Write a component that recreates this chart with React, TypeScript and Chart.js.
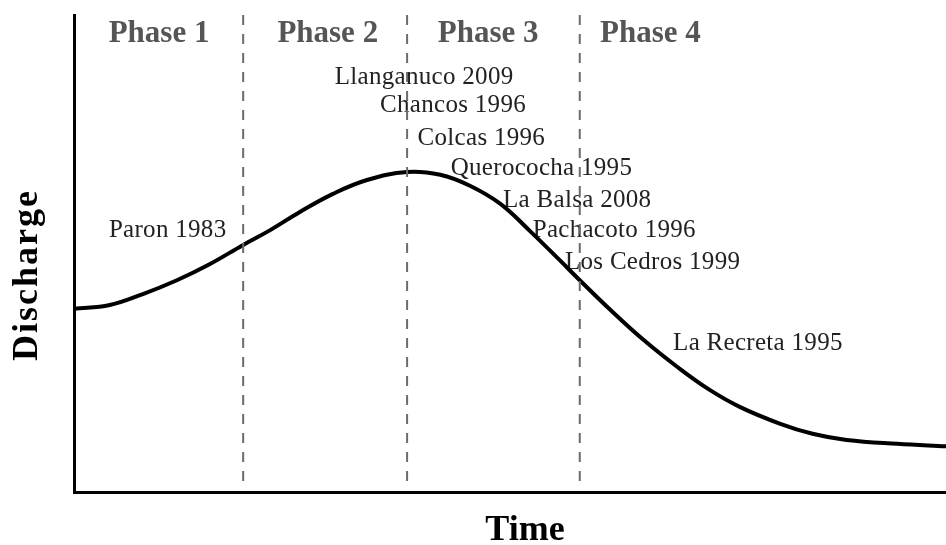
import React, { useEffect, useRef } from "react";
import { Chart, registerables } from "chart.js";

Chart.register(...registerables);

// Conceptual discharge curve (time 0-100, discharge 0-100)
const curveTime = [0, 4.1, 7.9, 11.8, 15.6, 19.4, 22.5, 25.9, 29.7, 33.6, 38.2, 42.0, 45.4, 48.9, 52.3, 55.7, 58.0, 61.5, 65.3, 69.2, 72.9, 76.4, 81.0, 84.7, 88.6, 94.4, 100];
const curveDischarge = [38.4, 39.2, 41.5, 44.4, 47.8, 51.8, 54.9, 58.7, 62.5, 65.4, 67.1, 66.5, 64.2, 60.4, 54.7, 48.6, 44.4, 38.2, 31.9, 26.2, 21.4, 17.8, 14.3, 12.2, 10.9, 10.1, 9.6];

// Phase boundaries (time)
const phaseBoundaries = [19.4, 38.2, 58.0];
const boundaryTop = 100;
const boundaryBottom = 1.3;

// Phase labels
const phaseLabels = ["Phase 1", "Phase 2", "Phase 3", "Phase 4"];
const phaseLabelX = [9.75, 29.1, 47.5, 66.1];
const phaseLabelY = 96.0;

// Site labels (left anchor, in data units)
const siteNames = ["Paron 1983", "Llanganuco 2009", "Chancos 1996", "Colcas 1996", "Querococha 1995", "La Balsa 2008", "Pachacoto 1996", "Los Cedros 1999", "La Recreta 1995"];
const siteX = [4.0, 29.9, 35.1, 39.4, 43.2, 49.2, 52.6, 56.3, 68.7];
const siteY = [54.9, 87.0, 81.1, 74.2, 67.9, 61.2, 54.9, 48.2, 31.2];

const xTitle = "Time";
const yTitle = "Discharge";

const labelPlugin = {
  id: "labelPlugin",
  beforeDatasetsDraw(chart: any) {
    const { ctx, scales } = chart;
    const xs = scales.x;
    const ys = scales.y;
    ctx.save();
    ctx.textBaseline = "middle";
    // phase labels
    ctx.fillStyle = "#555555";
    ctx.font = "bold 31px 'Liberation Serif', serif";
    ctx.textAlign = "center";
    phaseLabels.forEach((t, i) => {
      ctx.fillText(t, xs.getPixelForValue(phaseLabelX[i]), ys.getPixelForValue(phaseLabelY));
    });
    try { (ctx as any).letterSpacing = "0.3px"; } catch (e) {}
    // site labels
    ctx.fillStyle = "#222222";
    ctx.font = "25px 'Liberation Serif', serif";
    ctx.textAlign = "left";
    siteNames.forEach((t, i) => {
      ctx.fillText(t, xs.getPixelForValue(siteX[i]), ys.getPixelForValue(siteY[i]));
    });
    ctx.restore();
  },
  afterDraw(chart: any) {
    const { ctx, chartArea } = chart;
    ctx.save();
    ctx.fillStyle = "#000000";
    ctx.font = "bold 36px 'Liberation Serif', serif";
    ctx.textAlign = "center";
    ctx.textBaseline = "middle";
    ctx.fillText(xTitle, (chartArea.left + chartArea.right) / 2 + 15, 531);
    ctx.translate(28, 275);
    ctx.rotate(-Math.PI / 2);
    try { (ctx as any).letterSpacing = "2px"; } catch (e) {}
    ctx.fillText(yTitle, 0, 0);
    ctx.restore();
  },
};

export default function App() {
  const canvasRef = useRef<HTMLCanvasElement | null>(null);

  useEffect(() => {
    const canvas = canvasRef.current;
    if (!canvas) return;
    const boundaryDatasets = phaseBoundaries.map((b) => ({
      data: [
        { x: b, y: boundaryTop },
        { x: b, y: boundaryBottom },
      ],
      showLine: true,
      borderColor: "#6b6b6b",
      borderWidth: 2,
      borderDash: [10, 9],
      pointRadius: 0,
      fill: false,
    }));
    const chart = new Chart(canvas, {
      type: "scatter",
      data: {
        datasets: [
          ...boundaryDatasets,
          {
            data: curveTime.map((t, i) => ({ x: t, y: curveDischarge[i] })),
            showLine: true,
            borderColor: "#000000",
            borderWidth: 4,
            borderJoinStyle: "round",
            borderCapStyle: "round",
            pointRadius: 0,
            tension: 0.4,
            fill: false,
          } as any,
        ],
      },
      options: {
        animation: false,
        responsive: false,
        devicePixelRatio: 1,
        layout: { padding: { top: 15, right: 0, left: 0, bottom: 0 } },
        plugins: { legend: { display: false }, tooltip: { enabled: false } },
        scales: {
          x: {
            type: "linear",
            min: 0,
            max: 100,
            ticks: { display: false },
            grid: { display: false },
            border: { display: true, color: "#000000", width: 3 },
            afterFit: (axis: any) => { axis.height = 53; },
          },
          y: {
            type: "linear",
            min: 0,
            max: 100,
            ticks: { display: false },
            grid: { display: false },
            border: { display: true, color: "#000000", width: 3 },
            afterFit: (axis: any) => { axis.width = 74; },
          },
        },
      },
      plugins: [labelPlugin],
    });
    return () => chart.destroy();
  }, []);

  return (
    <div style={{ position: "fixed", left: 0, top: 0, width: 946, height: 545, background: "#ffffff" }}>
      <canvas ref={canvasRef} width={946} height={545} />
    </div>
  );
}
